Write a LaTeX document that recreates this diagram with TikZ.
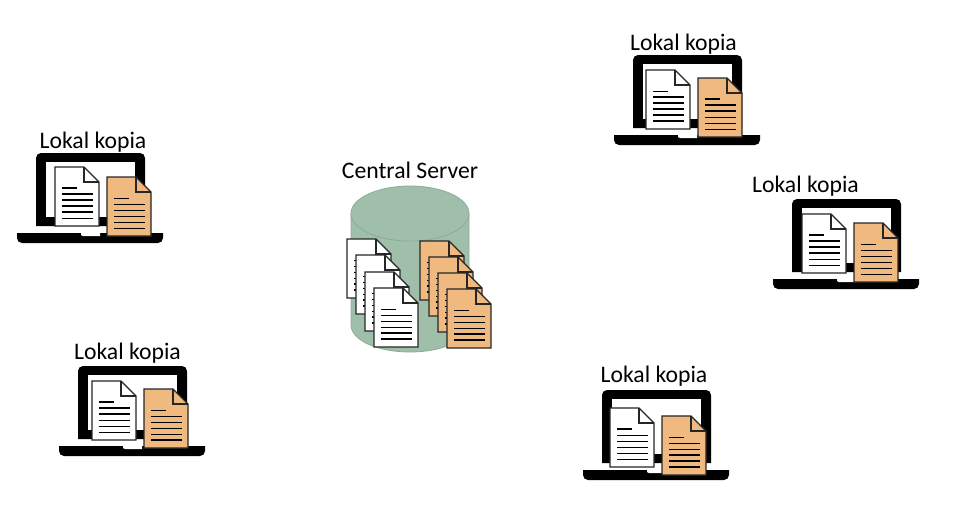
\documentclass[tikz,border=0pt]{standalone}
\usepackage{fontspec}
\setmainfont{Carlito}
\usepackage{xcolor}
\definecolor{paperorange}{HTML}{F0B97F}
\definecolor{drumgreen}{HTML}{A0BFAB}
\definecolor{drumedge}{HTML}{8DAA98}

\tikzset{
  caption/.style={font=\fontsize{23.7}{28}\selectfont,text=black,inner sep=0pt,anchor=base},
  sheet/.style={draw=black!85,line width=1.4pt,line join=miter},
  drum/.style={draw=drumedge,line width=0.8pt,fill=drumgreen}
}

% top left corner of the screen
\newcommand{\laptop}[2]{
  \begin{scope}[shift={(#1,#2)}]
    \fill[black,rounded corners=5pt] (0,73) -- (0,0) -- (109,0) -- (109,73);
    \fill[black] (0,65) rectangle (109,73);
    \fill[white] (10,9) rectangle (99,64);
    \fill[black,rounded corners=5pt] (-19,80) -- (-19,90) -- (127,90) -- (127,80);
    \fill[black] (-19,80) rectangle (127,84);
    \fill[white] (45,80) -- (45,82) -- (47,83) -- (64,83) -- (64,80) -- cycle;
  \end{scope}
}

% top left corner, fill, width of the short line, widths of the long lines
\newcommand{\sheetdoc}[5]{
  \begin{scope}[shift={(#1,#2)}]
    \draw[sheet,fill=#3] (0,0) -- (29,0) -- (44,15) -- (44,59) -- (0,59) -- cycle;
    \draw[sheet] (29,0) -- (29,15) -- (44,15);
    \draw[line width=#4 pt] (7,21) -- (22,21);
    \foreach \w [count=\i] in {#5}
      \draw[line width=\w pt] (7,21+6*\i) -- (38,21+6*\i);
  \end{scope}
}

\begin{document}
\begin{tikzpicture}[x=1pt,y=-1pt]
\useasboundingbox (0,0) rectangle (969,520);

% server
\draw[drum] (351,214) -- (351,325) .. controls (351,340) and (377,352) .. (410,352) .. controls (443,352) and (469,340) .. (469,325) -- (469,214) -- cycle;
\draw[drum] (410,213.5) ellipse [x radius=59pt, y radius=27.5pt];
\node[caption] (server) at (410,178) {Central Server};

\sheetdoc{347}{239}{white}{.6}{.6,.6,.6,1.4,1.4}
\sheetdoc{356}{255}{white}{.6}{.6,.6,.6,1.4,1.4}
\sheetdoc{365}{272}{white}{.6}{.6,.6,.6,1.4,1.4}
\sheetdoc{374}{288}{white}{.6}{.6,.6,.6,1.4,1.4}
\sheetdoc{420}{241}{paperorange}{.6}{.6,.6,.6,1.4,1.4}
\sheetdoc{429}{257}{paperorange}{.6}{.6,.6,.6,1.4,1.4}
\sheetdoc{438}{273}{paperorange}{.6}{.6,.6,.6,1.4,1.4}
\sheetdoc{447}{289}{paperorange}{.6}{.6,.6,.6,1.4,1.4}

% laptops
\laptop{36}{153}
\sheetdoc{55}{167}{white}{1.4}{1.4,1.4,1.4,1.4,.6}
\sheetdoc{107}{177}{paperorange}{.6}{.6,.6,.6,.6,.6}
\node[caption] (lokal1) at (93,148.5) {Lokal kopia};

\laptop{78}{366}
\sheetdoc{92}{381}{white}{1.4}{1.4,1.4,.6,.6,.6}
\sheetdoc{144}{389}{paperorange}{.6}{.6,.6,.6,.6,1.4}
\node[caption] (lokal2) at (127.5,359.5) {Lokal kopia};

\laptop{633}{55}
\sheetdoc{646}{70}{white}{.6}{1.4,1.4,1.4,1.4,1.4}
\sheetdoc{698}{78}{paperorange}{1.4}{1.4,1.4,.6,.6,.6}
\node[caption] (lokal3) at (683.5,50) {Lokal kopia};

\laptop{792}{199}
\sheetdoc{802}{214}{white}{1.4}{1.4,1.4,1.4,.6,.6}
\sheetdoc{854}{223}{paperorange}{.6}{.6,.6,.6,.6,.6}
\node[caption] (lokal4) at (805.5,192) {Lokal kopia};

\laptop{602}{390}
\sheetdoc{610}{408}{white}{1.4}{.6,.6,.6,.6,.6}
\sheetdoc{662}{416}{paperorange}{.6}{.6,.6,1.4,1.4,1.4}
\node[caption] (lokal5) at (654,382.5) {Lokal kopia};

\end{tikzpicture}
\end{document}
